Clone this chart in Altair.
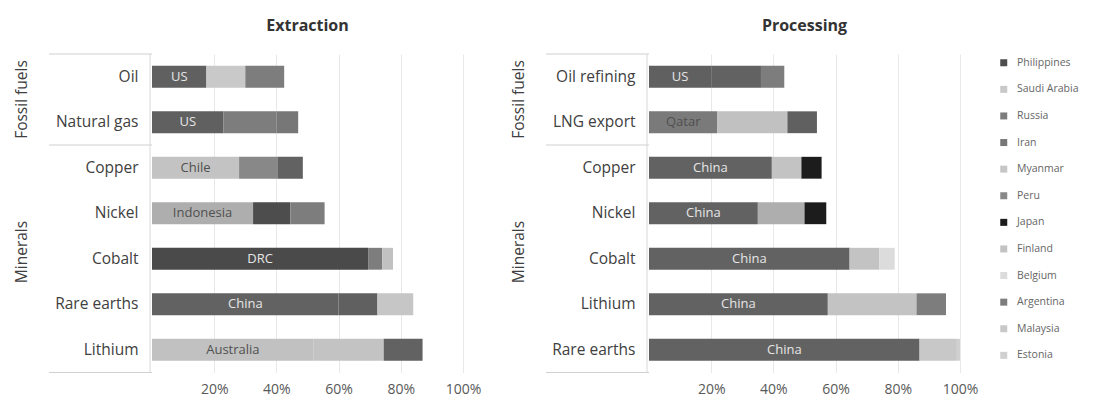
import altair as alt
import pandas as pd

FONT = "Open Sans"

# ---- data ----
ext_cats = ["Oil", "Natural gas", "Copper", "Nickel", "Cobalt", "Rare earths", "Lithium"]
ext_countries = [["US", "Saudi Arabia", "Russia"], ["US", "Russia", "Iran"], ["Chile", "Peru", "China"],
                 ["Indonesia", "Philippines", "Russia"], ["DRC", "Russia", "Australia"],
                 ["China", "US", "Myanmar"], ["Australia", "Chile", "China"]]
ext_shares = [[17.5, 12.5, 12.5], [23, 17, 7], [28, 12.5, 8], [32.5, 12, 11],
              [69.5, 4.5, 3.5], [60, 12.5, 11.5], [52, 22.5, 12.5]]

proc_cats = ["Oil refining", "LNG export", "Copper", "Nickel", "Cobalt", "Lithium", "Rare earths"]
proc_countries = [["US", "China", "Russia"], ["Qatar", "Australia", "US"], ["China", "Chile", "Japan"],
                  ["China", "Indonesia", "Japan"], ["China", "Finland", "Belgium"],
                  ["China", "Chile", "Argentina"], ["China", "Malaysia", "Estonia"]]
proc_shares = [[20, 16, 7.5], [22, 22.5, 9.5], [39.5, 9.5, 6.5], [35, 15, 7],
               [64.5, 9.5, 5], [57.5, 28.5, 9.5], [87, 12, 1]]

countries = ["US", "Saudi Arabia", "Russia", "Iran", "Chile", "Peru", "China", "Indonesia",
             "Philippines", "DRC", "Australia", "Myanmar", "Qatar", "Japan", "Finland",
             "Belgium", "Argentina", "Malaysia", "Estonia"]
grays = ["#606060", "#c9c9c9", "#7d7d7d", "#777777", "#c3c3c3", "#888888", "#626262", "#aeaeae",
         "#4d4d4d", "#4a4a4a", "#c1c1c1", "#c6c6c6", "#7a7a7a", "#1c1c1c", "#c3c3c3",
         "#dcdcdc", "#7d7d7d", "#c8c8c8", "#d0d0d0"]
dark_text = ["Chile", "Indonesia", "Australia", "Qatar"]
legend_items = ["Philippines", "Saudi Arabia", "Russia", "Iran", "Myanmar", "Peru", "Japan",
                "Finland", "Belgium", "Argentina", "Malaysia", "Estonia"]
tick_vals = [20, 40, 60, 80, 100]
groups = ["Fossil fuels", "Minerals"]

W = 311
H = 318.5


def build(cats, ctrs, shares):
    rows = []
    for c, cl, sl in zip(cats, ctrs, shares):
        s = 0
        for i, (ct, v) in enumerate(zip(cl, sl)):
            rows.append({"cat": c, "country": ct, "share": v, "start": s, "end": s + v,
                         "mid": s + v / 2, "rank": i,
                         "label": ct if i == 0 else "",
                         "tcol": "#505050" if ct in dark_text else "#e6e6e6"})
            s += v
    return pd.DataFrame(rows)


def panel(df, cats, title):
    base = alt.Chart(df)
    yenc = alt.Y("cat:N", sort=cats,
                 scale=alt.Scale(paddingInner=0.52, paddingOuter=0.26),
                 axis=alt.Axis(title=None, labelFontSize=15.5, labelColor="#404040", labelFont=FONT,
                               labelPadding=14, ticks=False, domain=False, grid=False))
    xenc = alt.X("start:Q", scale=alt.Scale(domain=[0, 100], nice=False),
                 axis=alt.Axis(values=tick_vals, labelExpr="datum.value + '%'", title=None,
                               domain=False, ticks=False, grid=True, gridColor="#e8e8e8",
                               labelFontSize=14, labelColor="#595959", labelFont=FONT,
                               labelPadding=10, labelFlush=False))
    bars = base.mark_bar().encode(
        x=xenc, x2="end:Q", y=yenc,
        color=alt.Color("country:N", scale=alt.Scale(domain=countries, range=grays),
                        legend=alt.Legend(title=None, values=legend_items, symbolType="square",
                                          symbolSize=49, labelFontSize=10.5, labelColor="#666666",
                                          labelFont=FONT, rowPadding=15.6, labelOffset=8,
                                          offset=17, padding=3.5, symbolStrokeWidth=0)),
        order="rank:Q",
    )
    texts = base.transform_filter("datum.label != ''").mark_text(
        fontSize=13, font=FONT).encode(
        x="mid:Q", y=alt.Y("cat:N", sort=cats), text="label:N",
        color=alt.Color("tcol:N", scale=None))

    ann = pd.DataFrame({"k": [0]})
    hl = []
    for yy in [0, H * 2 / 7, H]:
        hl.append(alt.Chart(ann).mark_rule(color="#d0d0d0", strokeWidth=1).encode(
            x=alt.value(-103), x2=alt.value(0), y=alt.value(yy)))
    vline = alt.Chart(ann).mark_rule(color="#d8d8d8", strokeWidth=1).encode(
        x=alt.value(-2), y=alt.value(0), y2=alt.value(H))
    grp = pd.DataFrame({"g": groups, "py": [H / 7, 198]})
    glab = alt.Chart(grp).mark_text(angle=270, fontSize=15.5, font=FONT, color="#404040",
                                    baseline="middle", align="center").encode(
        x=alt.value(-130), y=alt.Y("py:Q", scale=None), text="g:N")

    return alt.layer(bars, texts, *hl, vline, glab).properties(
        width=W, height=H,
        title=alt.TitleParams(title, fontSize=16, fontWeight="bold", font=FONT,
                              color="#333333", offset=20))


ext = panel(build(ext_cats, ext_countries, ext_shares), ext_cats, "Extraction")
proc = panel(build(proc_cats, proc_countries, proc_shares), proc_cats, "Processing")

chart = alt.hconcat(ext, proc, spacing=31).configure_view(stroke=None).properties(
    padding={"left": 7, "top": 9, "right": 0, "bottom": 0})

chart.save("out.html", embed_options={"renderer": "svg", "actions": False})
